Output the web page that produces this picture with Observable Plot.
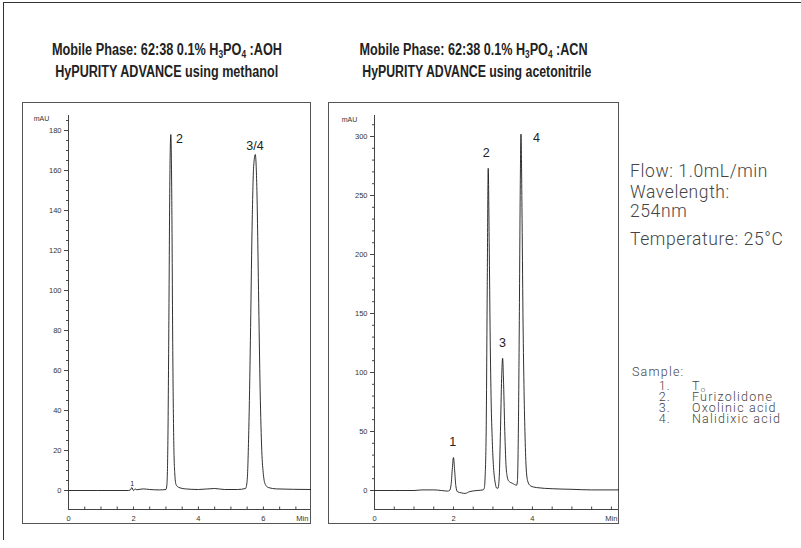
<!DOCTYPE html>
<html><head><meta charset="utf-8">
<script src="https://cdn.jsdelivr.net/npm/d3@7"></script>
<script src="https://cdn.jsdelivr.net/npm/@observablehq/plot@0.6"></script>
<style>
body{margin:0;background:#fff;}
#page{position:relative;width:801px;height:548px;overflow:hidden;font-family:"Liberation Sans",Arial,sans-serif;background:#fff;}
.fr{position:absolute;background:#333;}
.title{position:absolute;text-align:center;font-family:"Liberation Sans",Arial,sans-serif;font-weight:bold;font-size:16px;line-height:22px;color:#222;white-space:nowrap;}
.title span{display:inline-block;transform-origin:50% 50%;}
.title sub{font-size:10.5px;vertical-align:-3px;line-height:0;}
.panel{position:absolute;border:1px solid #555;}
.panel svg{position:absolute;left:0;top:0;}
.info{position:absolute;left:630px;font-family:Roboto,"Liberation Sans",sans-serif;font-weight:300;font-size:17.5px;letter-spacing:0.6px;color:#444;line-height:19px;white-space:nowrap;}
.sample{position:absolute;font-family:Roboto,"Liberation Sans",sans-serif;font-weight:300;font-size:12.5px;letter-spacing:1.2px;color:#444;line-height:11px;white-space:nowrap;}
.sample sub{font-size:8px;vertical-align:-2px;line-height:0;letter-spacing:0;}
</style>
</head><body>
<div id="page">
  <div class="fr" style="left:3px;top:2px;width:798px;height:1px"></div>
  <div class="fr" style="left:3px;top:2px;width:1px;height:538px"></div>

  <div class="title" style="left:22px;top:39px;width:289px;">
    <div><span data-w="230">Mobile Phase: 62:38 0.1% H<sub>3</sub>PO<sub>4</sub> :AOH</span></div>
    <div><span data-w="223">HyPURITY ADVANCE using methanol</span></div>
  </div>
  <div class="title" style="left:328px;top:39px;width:291px;">
    <div><span data-w="228">Mobile Phase: 62:38 0.1% H<sub>3</sub>PO<sub>4</sub> :ACN</span></div>
    <div><span data-w="229">HyPURITY ADVANCE using acetonitrile</span></div>
  </div>

  <div class="panel" id="left" style="left:22px;top:102px;width:287px;height:420px;"></div>
  <div class="panel" id="right" style="left:328px;top:102px;width:289px;height:420px;"></div>

  <div class="info" style="top:162px;">Flow: 1.0mL/min</div>
  <div class="info" style="top:183px;">Wavelength:<br>254nm</div>
  <div class="info" style="top:230px;">Temperature: 25°C</div>

  <div class="sample" style="left:632px;top:366px;">Sample:</div>
  <div class="sample" id="samplelist" style="left:650px;top:380px;"></div>
</div>
<script>
// ---- Left chromatogram (methanol) ----
const leftTime = [0, 1.8, 1.9, 1.95, 2.0, 2.05, 2.1, 2.3, 2.5, 2.8, 3.0, 3.03, 3.06, 3.09, 3.12, 3.15, 3.18, 3.21, 3.24, 3.27, 3.31, 3.4, 3.6, 4.0, 4.5, 4.8, 5.2, 5.45, 5.5, 5.55, 5.6, 5.65, 5.7, 5.75, 5.8, 5.85, 5.9, 5.95, 6.0, 6.06, 6.15, 6.4, 7.45];
const leftMAU  = [0, 0, 0.2, 1.5, 0, 0.8, 0.4, 0.8, 0.5, 0.3, 0.5, 3, 25, 85, 155, 178, 145, 70, 25, 9, 3, 1.5, 0.8, 0.5, 1, 0.5, 0.5, 1, 5, 30, 75, 130, 162, 168, 150, 100, 50, 20, 8, 3, 1.5, 0.8, 0.5];
const leftYMajor = [0, 20, 40, 60, 80, 100, 120, 140, 160, 180];
const leftXLabels = ["0", "2", "4", "6", "Min"];
const leftXLabelPos = [0, 2, 4, 6, 7.2];
const leftPeakNames = ["1", "2", "3/4"];
const leftPeakT = [1.96, 3.42, 5.74];
const leftPeakV = [3.5, 176, 172.5];

// ---- Right chromatogram (acetonitrile) ----
const rightTime = [0, 1.0, 1.2, 1.5, 1.7, 1.85, 1.9, 1.94, 1.97, 2.0, 2.03, 2.06, 2.1, 2.2, 2.3, 2.4, 2.6, 2.75, 2.78, 2.8, 2.83, 2.855, 2.88, 2.905, 2.93, 2.955, 2.98, 3.01, 3.05, 3.1, 3.13, 3.16, 3.19, 3.22, 3.245, 3.27, 3.3, 3.33, 3.36, 3.4, 3.5, 3.6, 3.62, 3.64, 3.665, 3.69, 3.71, 3.735, 3.76, 3.785, 3.81, 3.84, 3.88, 3.95, 4.1, 4.5, 5.0, 5.5, 6.18];
const rightMAU  = [0, 0, 0.5, 0.5, 0, -0.5, 0, 5, 18, 28, 17, 4, -1, -2, -2.5, -1, 0, 0.5, 2, 10, 55, 170, 273, 210, 130, 75, 45, 22, 8, 2, 2, 12, 50, 95, 112, 90, 50, 22, 12, 8, 6, 4.5, 8, 40, 130, 250, 302, 240, 150, 90, 50, 20, 8, 4, 2.5, 1.5, 1, 0.5, 0.5];
const rightYMajor = [0, 50, 100, 150, 200, 250, 300];
const rightXLabels = ["0", "2", "4", "Min"];
const rightXLabelPos = [0, 2, 4, 6];
const rightPeakNames = ["1", "2", "3", "4"];
const rightPeakT = [1.98, 2.83, 3.24, 4.1];
const rightPeakV = [40.7, 286, 125, 299];

const sampleNums = ["1.", "2.", "3.", "4."];
const sampleNames = ["T<sub>o</sub>", "Furizolidone", "Oxolinic acid", "Nalidixic acid"];

function drawPanel(o) {
  const mt = 12, mb = 14, ml = 45, mr = 0;
  const yu = (o.yMax - o.yMin) / (o.h - mt - mb);
  const xu = o.xMax / (o.w - ml - mr);
  const series = o.t.map((t, i) => ({t, v: o.v[i]}));
  const xMinor = d3.range(0, o.xMax + 1e-9, 0.5);
  const yMinor = d3.range(0, o.yMax, o.yMinorStep);
  const font = "Liberation Sans, Arial, sans-serif";
  return Plot.plot({
    width: o.w, height: o.h,
    marginTop: mt, marginBottom: mb, marginLeft: ml, marginRight: mr,
    x: {domain: [0, o.xMax], axis: null},
    y: {domain: [o.yMin, o.yMax], axis: null},
    style: {background: "transparent", overflow: "visible", fontFamily: font},
    marks: [
      Plot.ruleY([o.yMin], {stroke: "#444", strokeWidth: 1}),
      Plot.ruleX([0], {stroke: "#444", strokeWidth: 1}),
      Plot.ruleX(xMinor, {x: d => d, y1: o.yMin, y2: o.yMin + 2.5 * yu, stroke: "#444"}),
      Plot.ruleY(yMinor, {y: d => d, x1: -2 * xu, x2: 0, stroke: "#444"}),
      Plot.ruleY(o.yMajor, {y: d => d, x1: -4 * xu, x2: 0, stroke: "#444"}),
      Plot.text(o.yMajor, {x: 0, y: d => d, text: d => String(d), textAnchor: "end", dx: -7, fontSize: 7.5, fill: "#333"}),
      Plot.text(o.xLabels, {x: (d, i) => o.xLabelPos[i], y: o.yMin, text: d => d, dy: 9, fontSize: 7.5, fill: "#333"}),
      Plot.text(["mAU"], {x: 0, y: o.yMax, text: d => d, dx: o.mauDx, dy: o.mauDy, fontSize: 7, fill: "#333"}),
      Plot.line(series, {x: "t", y: "v", stroke: "#1a1a1a", strokeWidth: 0.9, curve: "monotone-x"}),
      Plot.text(o.peakNames, {x: (d, i) => o.peakT[i], y: (d, i) => o.peakV[i], text: d => d, fontSize: (d, i) => o.peakFont[i], fill: "#222"})
    ]
  });
}

document.getElementById("left").appendChild(drawPanel({
  w: 287, h: 420, xMax: 7.45, yMin: -9.5, yMax: 187.5, yMinorStep: 5,
  t: leftTime, v: leftMAU, yMajor: leftYMajor,
  xLabels: leftXLabels, xLabelPos: leftXLabelPos,
  peakNames: leftPeakNames, peakT: leftPeakT, peakV: leftPeakV, peakFont: [7, 12.5, 12.5],
  mauDx: -27, mauDy: 3
}));

document.getElementById("right").appendChild(drawPanel({
  w: 289, h: 420, xMax: 6.18, yMin: -16.1, yMax: 317.8, yMinorStep: 10,
  t: rightTime, v: rightMAU, yMajor: rightYMajor,
  xLabels: rightXLabels, xLabelPos: rightXLabelPos,
  peakNames: rightPeakNames, peakT: rightPeakT, peakV: rightPeakV, peakFont: [12.5, 12.5, 12.5, 12.5],
  mauDx: -25, mauDy: 4
}));

// condensed titles: squeeze each line horizontally to the reference width
document.querySelectorAll(".title span[data-w]").forEach(s => {
  const w = s.getBoundingClientRect().width;
  const target = +s.dataset.w;
  if (w > 0) s.style.transform = `scaleX(${target / w})`;
});

const list = document.getElementById("samplelist");
list.innerHTML = sampleNums.map((n, i) =>
  `<div style="display:flex;height:11px;"><span style="width:21px;text-align:right;display:inline-block">${n}</span><span style="margin-left:21px">${sampleNames[i]}</span></div>`
).join("");
</script>
</body></html>
